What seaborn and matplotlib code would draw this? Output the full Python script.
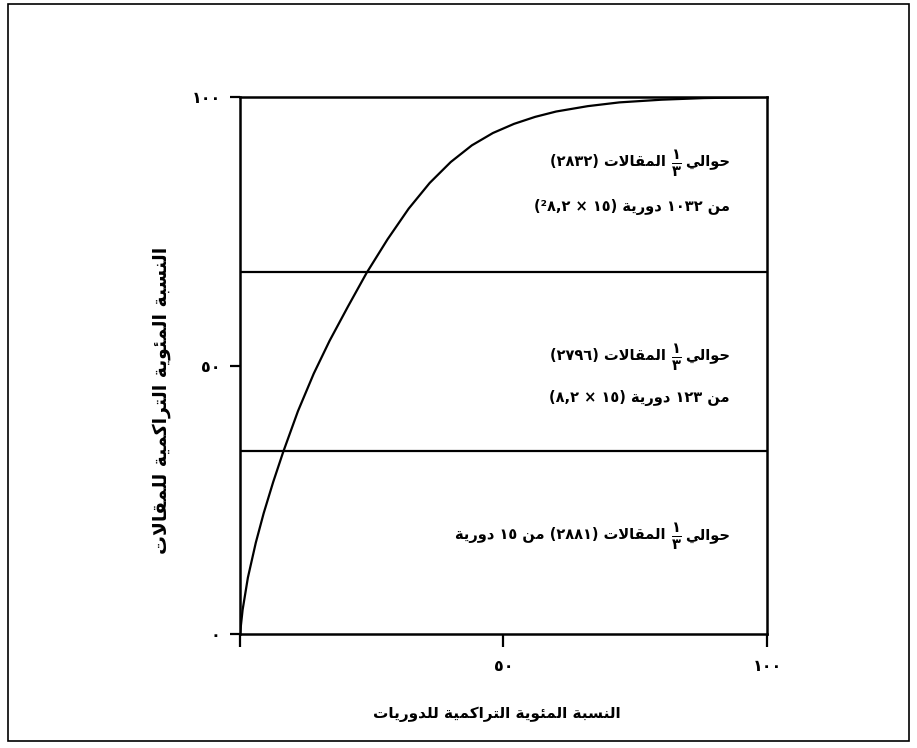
import re
import numpy as np
import pandas as pd
import matplotlib
matplotlib.use("Agg")
import matplotlib.pyplot as plt
import matplotlib.patches as patches
import seaborn as sns

# ---------------- data ----------------
journals_pct = [0, 0.5, 1.5, 3, 4.5, 6.3, 8.2, 11, 14, 17, 20.5, 24, 28, 32, 36,
                40, 44, 48, 52, 56, 60, 66, 72, 80, 88, 100]
articles_pct = [0, 4.5, 10.5, 17, 22.5, 28.3, 33.9, 41.5, 48.5, 54.6, 61, 67.2,
                73.5, 79.2, 84.0, 87.9, 91.0, 93.3, 95.0, 96.3, 97.3, 98.3, 99.0,
                99.5, 99.8, 100]
zone_bounds = [34.1, 67.4]
tick_values = [0, 50, 100]
x_tick_labels = ["", "٥٠", "١٠٠"]
y_tick_labels = ["٠", "٥٠", "١٠٠"]
x_label = "النسبة المئوية التراكمية للدوريات"
y_label = "النسبة المئوية التراكمية للمقالات"
zone_word = "حوالي"
zone_rest = ["المقالات (٢٨٣٢)", "المقالات (٢٧٩٦)", "المقالات (٢٨٨١) من ١٥ دورية"]
zone_line2 = ["من ١٠٣٢ دورية (١٥ × ٨,٢²)", "من ١٢٣ دورية (١٥ × ٨,٢)", None]
frac_num, frac_den = "١", "٣"

# ------------- minimal Arabic shaping (presentation forms) -------------
FORMS = {
    'ا': (0xFE8D, 0xFE8E), 'ب': (0xFE8F, 0xFE90, 0xFE91, 0xFE92),
    'ة': (0xFE93, 0xFE94), 'ت': (0xFE95, 0xFE96, 0xFE97, 0xFE98),
    'ح': (0xFEA1, 0xFEA2, 0xFEA3, 0xFEA4), 'د': (0xFEA9, 0xFEAA),
    'ر': (0xFEAD, 0xFEAE), 'س': (0xFEB1, 0xFEB2, 0xFEB3, 0xFEB4),
    'ق': (0xFED5, 0xFED6, 0xFED7, 0xFED8), 'ك': (0xFED9, 0xFEDA, 0xFEDB, 0xFEDC),
    'ل': (0xFEDD, 0xFEDE, 0xFEDF, 0xFEE0), 'م': (0xFEE1, 0xFEE2, 0xFEE3, 0xFEE4),
    'ن': (0xFEE5, 0xFEE6, 0xFEE7, 0xFEE8), 'و': (0xFEED, 0xFEEE),
    'ي': (0xFEF1, 0xFEF2, 0xFEF3, 0xFEF4), 'ئ': (0xFE89, 0xFE8A, 0xFE8B, 0xFE8C),
}


def shape(text):
    out, i, prev = [], 0, False
    while i < len(text):
        c = text[i]
        if c not in FORMS:
            out.append(c); prev = False; i += 1; continue
        if c == 'ل' and i + 1 < len(text) and text[i + 1] == 'ا':
            out.append(chr(0xFEFC if prev else 0xFEFB)); prev = False; i += 2; continue
        f = FORMS[c]
        nxt = text[i + 1] if i + 1 < len(text) else ''
        nj = len(f) == 4 and nxt in FORMS
        if prev and nj:
            g = f[3]
        elif prev:
            g = f[1]
        elif nj:
            g = f[2]
        else:
            g = f[0]
        out.append(chr(g)); prev = nj; i += 1
    return ''.join(out)


def visual(text):
    s = shape(text)
    toks = re.findall(r'[\u0660-\u0669,]+|.', s)
    mirror = {'(': ')', ')': '('}
    return ''.join(mirror.get(t, t) for t in reversed(toks))


# ---------------- figure ----------------
sns.set_style("white")
plt.rcParams['font.family'] = ['DejaVu Sans']
plt.rcParams['font.weight'] = 'bold'
plt.rcParams['text.color'] = 'black'
plt.rcParams['axes.labelcolor'] = 'black'
plt.rcParams['xtick.color'] = 'black'
plt.rcParams['ytick.color'] = 'black'
plt.rcParams['mathtext.fontset'] = 'dejavusans'
plt.rcParams['mathtext.default'] = 'bf'

fig = plt.figure(figsize=(9.17, 7.48), dpi=100)
ax = fig.add_axes([0.2617, 0.1524, 0.5747, 0.7179])

df = pd.DataFrame({"journals": journals_pct, "articles": articles_pct})
sns.lineplot(data=df, x="journals", y="articles", ax=ax, color="black",
             linewidth=1.6, estimator=None, sort=False)
for yb in zone_bounds:
    ax.axhline(yb, color="black", linewidth=1.6)

ax.set_xlim(0, 100)
ax.set_ylim(0, 100)
ax.set_xticks(tick_values)
ax.set_xticklabels(x_tick_labels, fontsize=11.5, fontweight='bold')
ax.set_yticks(tick_values)
ax.set_yticklabels(y_tick_labels, fontsize=11.5, fontweight='bold')
ax.tick_params(axis='x', bottom=True, direction='out', length=9, width=1.6,
               pad=9, colors='black')
ax.tick_params(axis='y', left=True, direction='out', length=7, width=1.6,
               pad=7, colors='black')
for sp in ax.spines.values():
    sp.set_visible(True)
    sp.set_color("black")
    sp.set_linewidth(1.8)

ax.set_xlabel(visual(x_label), fontsize=11, fontweight='bold', color='black')
ax.xaxis.set_label_coords(0.487, -0.135)
ax.set_ylabel(visual(y_label), fontsize=13.5, fontweight='bold', color='black')
ax.yaxis.set_label_coords(-0.13, 0.435)

# zone annotations
line1_y = [87.9, 51.8, 18.4]
line2_y = [79.5, 43.9, None]
x_right = 93.0
frac_x = 82.9
rest_right = 80.8
frac_tex = r"$\frac{%s}{%s}$" % (frac_num, frac_den)
for k in range(3):
    ax.text(x_right, line1_y[k], visual(zone_word), ha='right', va='center',
            fontsize=10.5, fontweight='bold', color='black')
    ax.text(frac_x, line1_y[k] - 0.4, frac_tex, ha='center', va='center',
            fontsize=15, color='black')
    ax.text(rest_right, line1_y[k], visual(zone_rest[k]), ha='right', va='center',
            fontsize=10.5, fontweight='bold', color='black')
    if zone_line2[k] is not None:
        ax.text(x_right, line2_y[k], visual(zone_line2[k]), ha='right', va='center',
                fontsize=10.5, fontweight='bold', color='black')

# outer frame
fig.patches.append(patches.Rectangle((0.0087, 0.009), 0.983, 0.985,
                                     transform=fig.transFigure, fill=False,
                                     edgecolor="black", linewidth=1.2))

fig.savefig("out.png", dpi=100)
